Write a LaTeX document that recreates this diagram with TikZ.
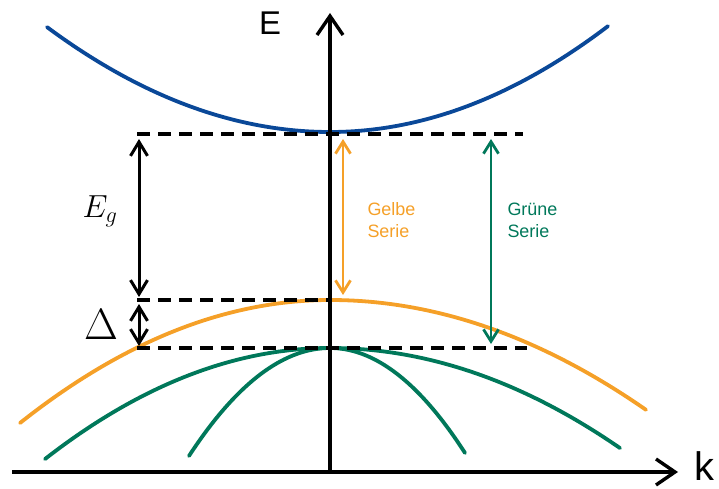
\RequirePackage{fix-cm}
\documentclass[tikz,border=0pt]{standalone}
\usepackage{fontspec}
\newfontfamily\lblfont{Liberation Sans}
\usetikzlibrary{arrows.meta}
\definecolor{bandblue}{RGB}{10,72,152}
\definecolor{bandorange}{RGB}{245,160,40}
\definecolor{bandgreen}{RGB}{0,120,90}
\begin{document}
\begin{tikzpicture}[x=1bp,y=-1bp,
  axis/.style={line width=3.4bp, -{Straight Barb[length=19bp,width=26bp,line width=3.4bp]}},
  band/.style={line width=3.8bp, line cap=round},
  level/.style={line width=3.6bp, dash pattern=on 13bp off 8bp},
  gap/.style={line width=3bp, {Straight Barb[length=14bp,width=17bp]}-{Straight Barb[length=14bp,width=17bp]}},
  series/.style={line width=2.8bp, {Straight Barb[length=12bp,width=15bp]}-{Straight Barb[length=12bp,width=15bp]}},
  lbl/.style={font=\lblfont\fontsize{18}{22}\selectfont, align=left, anchor=west}]
\useasboundingbox (0,0) rectangle (719,489);
% bands
\draw[band, bandgreen] plot[domain=45:330, samples=80] (\x,{348+13.67*((\x-330)/100)^2})
   -- plot[domain=330:620, samples=80] (\x,{348+11.9*((\x-330)/100)^2});
\draw[band, bandgreen] plot[domain=189:330, samples=60] (\x,{348+54.3*((\x-330)/100)^2})
   -- plot[domain=330:465, samples=60] (\x,{348+57.6*((\x-330)/100)^2});
\draw[band, bandorange] plot[domain=20:330, samples=80] (\x,{300+12.8*((\x-330)/100)^2})
   -- plot[domain=330:646, samples=80] (\x,{300+11.0*((\x-330)/100)^2});
\draw[band, bandblue] plot[domain=47:330, samples=80] (\x,{132-13.1*((\x-330)/100)^2})
   -- plot[domain=330:608, samples=80] (\x,{132-13.7*((\x-330)/100)^2});
% levels
\coordinate (l1a) at (137,134); \coordinate (l1b) at (523,134);
\coordinate (l2a) at (137,300); \coordinate (l2b) at (328,300);
\coordinate (l3a) at (137,348); \coordinate (l3b) at (527,348);
\draw[level] (l1a) -- (l1b);
\draw[level] (l2a) -- (l2b);
\draw[level] (l3a) -- (l3b);
% gap arrows
\coordinate (gt) at (139,139); \coordinate (gb) at (139,297);
\coordinate (dt) at (139,304); \coordinate (db) at (139,346);
\draw[gap] (gt) -- (gb);
\draw[gap] (dt) -- (db);
\coordinate (ot) at (343,139); \coordinate (ob) at (343,295);
\coordinate (nt) at (491,139); \coordinate (nb) at (491,344);
\draw[series, bandorange] (ot) -- (ob);
\draw[series, bandgreen] (nt) -- (nb);
% axes
\coordinate (xs) at (12,472); \coordinate (xe) at (678,472);
\coordinate (yb) at (330,472); \coordinate (yt) at (330,13);
\draw[axis] (xs) -- (xe);
\draw[axis] (yb) -- (yt);
% labels
\node[font=\lblfont\fontsize{33}{33}\selectfont, anchor=base] (E) at (270,35) {E};
\node[font=\lblfont\fontsize{40}{40}\selectfont, anchor=base, inner sep=0pt] (k) at (704,480) {k};
\node[font=\fontsize{32}{32}\selectfont] (Eg) at (100,211) {$E_g$};
\node[font=\fontsize{44}{44}\selectfont] (D) at (101,325) {$\Delta$};
\node[lbl, text=bandorange] (gelbe) at (364,220) {Gelbe\\Serie};
\node[lbl, text=bandgreen] (gruene) at (504,220) {Grüne\\Serie};
\end{tikzpicture}
\end{document}
